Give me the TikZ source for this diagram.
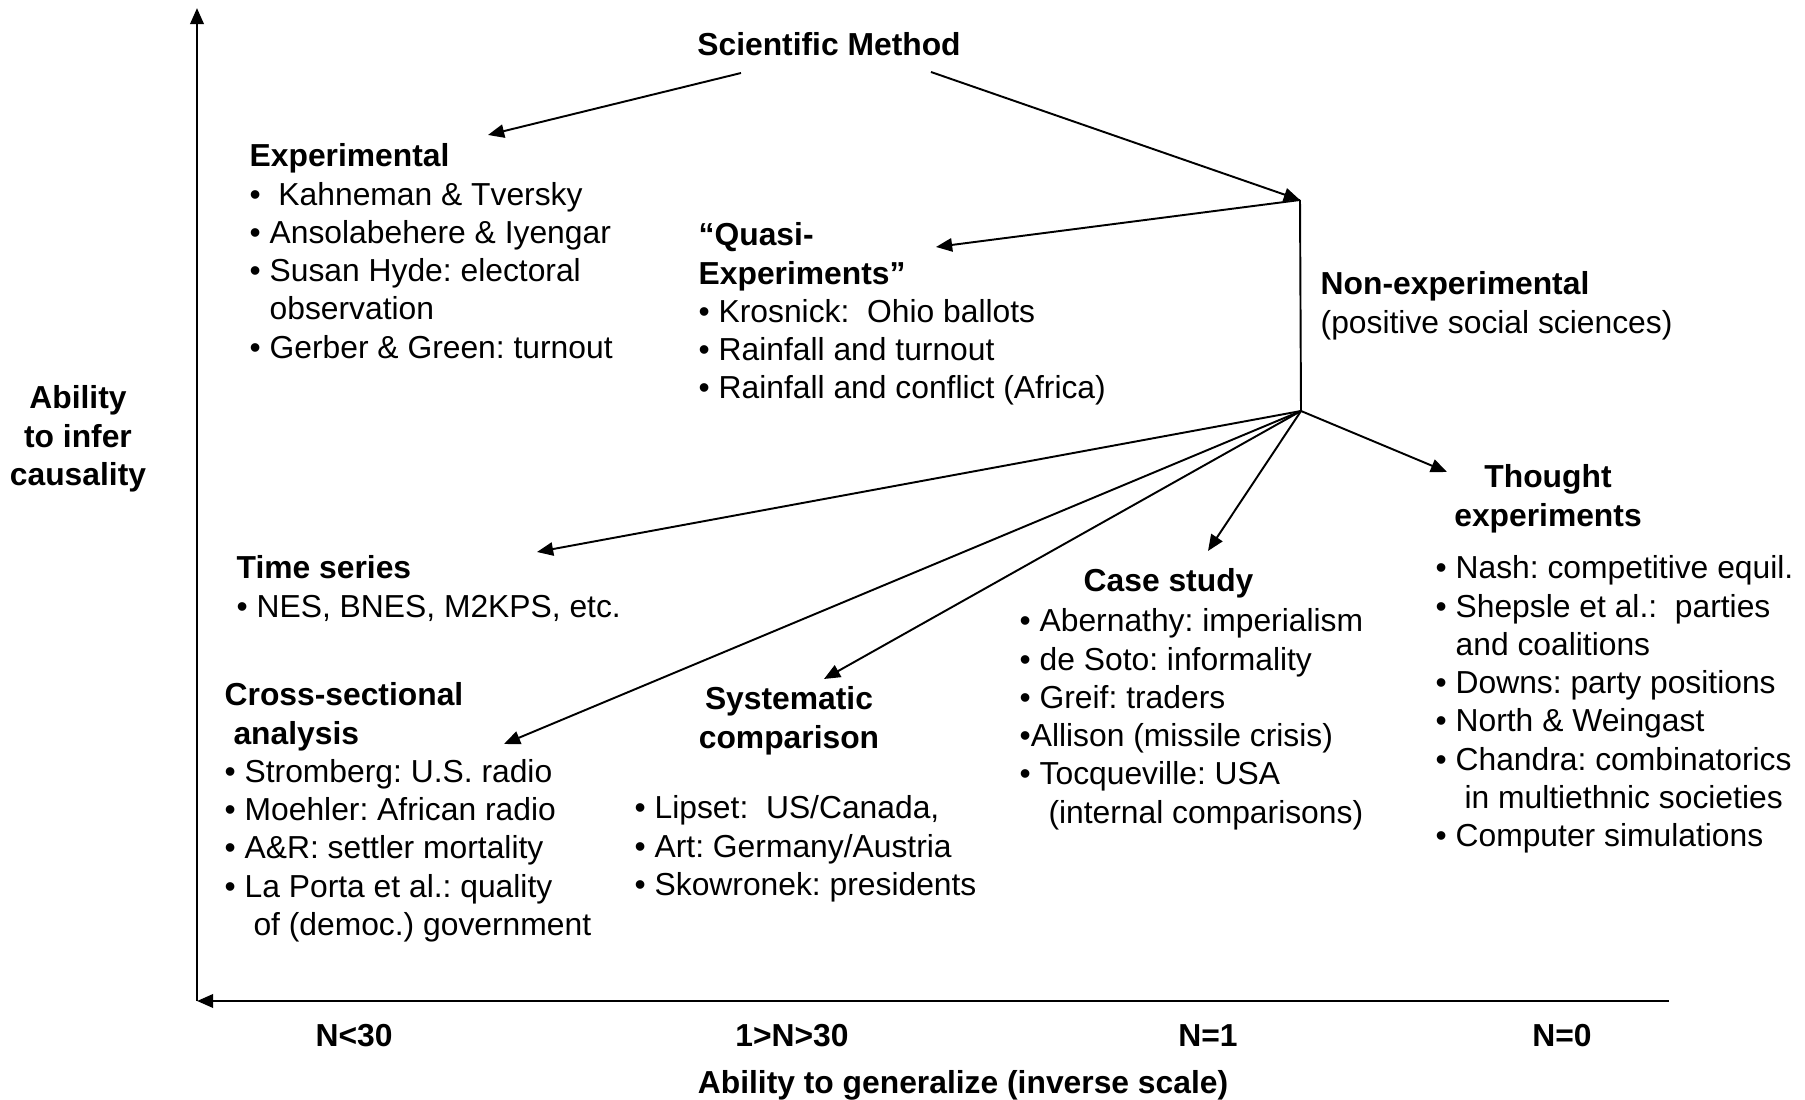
\documentclass[tikz,border=0pt]{standalone}
\usepackage{fontspec}
\setmainfont{Liberation Sans}
\usetikzlibrary{arrows.meta,positioning,calc}
\frenchspacing

\newcommand{\ind}{\phantom{• }}

\begin{document}
\begin{tikzpicture}[
  x=0.1mm, y=-0.1mm,
  >={Triangle[length=4.6pt,width=3.8pt]},
  every node/.style={font=\fontsize{9.05}{10.9}\selectfont, inner sep=0pt},
  heading/.style={font=\fontsize{9.05}{10.9}\selectfont\bfseries},
  listbox/.style={anchor=north west, align=left},
  arr/.style={->, line width=0.55pt},
  axis/.style={->, line width=0.8pt}
]
\useasboundingbox (0,0) rectangle (1805,1100);

% axes
\coordinate (origin) at (197,1001);
\coordinate (ytop) at (197,8);
\coordinate (xend) at (1669,1001);
\draw[axis] (xend) -- (origin);
\draw[axis] (origin) -- (ytop);

\node[heading, align=center, anchor=north] (yaxis) at (78,385) {Ability\\to infer\\causality};
\node[heading, anchor=base] (nlow) at (354,1047) {N<30};
\node[heading, anchor=base] (nmid) at (792,1047) {1>N>30};
\node[heading, anchor=base] (none) at (1208,1047) {N=1};
\node[heading, anchor=base] (nzero) at (1562,1047) {N=0};
\node[heading, anchor=base] (xaxis) at (963,1094) {Ability to generalize (inverse scale)};

% method tree
\node[heading, anchor=base] (sci) at (829,56) {Scientific Method};

\node[listbox] (exper) at (249,143) {\textbf{Experimental}\\
  • \ Kahneman \& Tversky\\
  • Ansolabehere \& Iyengar\\
  • Susan Hyde: electoral\\
  \ind observation\\
  • Gerber \& Green: turnout};

\node[listbox] (quasi) at (698,222) {\textbf{“Quasi-}\\
  \textbf{Experiments”}\\
  • Krosnick: \ Ohio ballots\\
  • Rainfall and turnout\\
  • Rainfall and conflict (Africa)};

\node[listbox] (nonexp) at (1320,271) {\textbf{Non-experimental}\\
  (positive social sciences)};

\node[listbox] (timeser) at (236,555) {\textbf{Time series}\\
  • NES, BNES, M2KPS, etc.};

\node[listbox] (cross) at (224,682) {\textbf{Cross-sectional}\\
  \textbf{\ analysis}\\
  • Stromberg: U.S. radio\\
  • Moehler: African radio\\
  • A\&R: settler mortality\\
  • La Porta et al.: quality\\
  \ind\ of (democ.) government};

\node[heading, align=center, anchor=north] (syshead) at (789,686) {Systematic\\comparison};
\node[listbox] (syslist) at (634,795) {• Lipset: \ US/Canada,\\
  • Art: Germany/Austria\\
  • Skowronek: presidents};

\node[heading, anchor=base west] (casehead) at (1083,592) {Case study};
\node[listbox] (caselist) at (1019,608) {• Abernathy: imperialism\\
  • de Soto: informality\\
  • Greif: traders\\
  •Allison (missile crisis)\\
  • Tocqueville: USA\\
  \ind\ (internal comparisons)};

\node[heading, align=center, anchor=north] (thoughthead) at (1548,464) {Thought\\experiments};
\node[listbox] (thoughtlist) at (1435,555) {• Nash: competitive equil.\\
  • Shepsle et al.: \ parties\\
  \ind and coalitions\\
  • Downs: party positions\\
  • North \& Weingast\\
  • Chandra: combinatorics\\
  \ind\ in multiethnic societies\\
  • Computer simulations};

% junctions and arrow ends
\coordinate (jtop) at (1300,200);
\coordinate (jbot) at (1301,411);
\coordinate (expin) at (488,135);
\coordinate (quasiin) at (936,247);
\coordinate (timein) at (537,552);
\coordinate (crossin) at (504,744);
\coordinate (sysin) at (824,679);
\coordinate (casein) at (1208,551);
\coordinate (thoughtin) at (1447,472);

\draw[arr] ([xshift=-8.8mm,yshift=-1.6mm]sci.south) -- (expin);
\draw[arr] ([xshift=10.2mm,yshift=-1.5mm]sci.south) -- (jtop);
\draw[arr] (jtop) -- (quasiin);
\draw[line width=0.55pt] (jtop) -- (jbot);
\draw[arr] (jbot) -- (timein);
\draw[arr] (jbot) -- (crossin);
\draw[arr] (jbot) -- (sysin);
\draw[arr] (jbot) -- (casein);
\draw[arr] (jbot) -- (thoughtin);
\end{tikzpicture}
\end{document}
